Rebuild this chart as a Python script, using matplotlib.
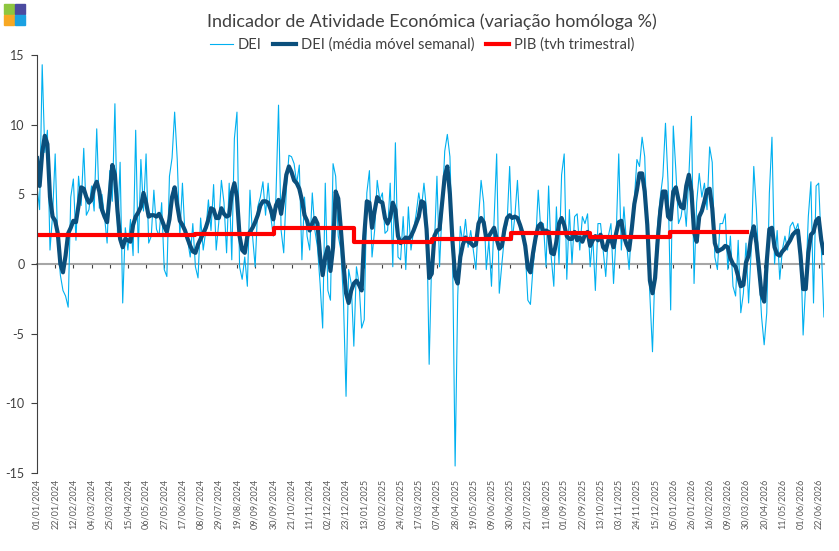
import pandas as pd
import matplotlib
matplotlib.use('Agg')
import matplotlib.pyplot as plt
import matplotlib.dates as mdates
from matplotlib.patches import Rectangle

plt.rcParams['font.family'] = ['Lato', 'DejaVu Sans']
plt.rcParams['axes.unicode_minus'] = False

# DEI (valores a cada 3 dias desde 01/01/2024)
dei = [
    5.6, 3.9, 14.3, 8.0, 9.6, 1.0, 3.5, 7.9, 1.5, -0.8,
    -1.9, -2.3, -3.1, 4.8, 6.1, 1.7, 6.3, 4.2, 8.3, 3.5,
    3.9, 5.6, 3.8, 9.7, 4.0, 5.0, 3.4, 1.5, 6.7, 4.5,
    11.5, 2.2, 7.3, -2.8, 2.6, 1.0, 3.2, 0.6, 9.6, 0.8,
    7.5, 3.8, 7.9, 1.5, 2.0, 5.3, 2.5, 2.0, 4.4, -0.4,
    -0.9, 6.3, 7.6, 10.9, 7.5, 2.0, 5.8, 2.0, 1.7, 0.5,
    2.9, -0.2, -1.0, 3.3, 1.0, 2.4, 4.6, 2.4, 5.7, 1.0,
    3.0, 6.0, 4.4, 0.8, 5.8, 0.3, 9.0, 10.9, -0.2, -1.1,
    0.5, -1.6, 5.3, 2.0, -0.2, 4.1, 4.8, 5.9, 3.5, 5.8,
    3.4, 2.0, 4.8, 11.4, 2.4, 0.8, 5.3, 7.8, 7.7, 7.2,
    5.8, 7.1, 0.3, 4.8, 2.0, 1.0, 5.1, 2.4, 1.2, -1.4,
    -4.6, 5.8, -1.9, -2.6, 7.2, 6.3, 2.0, 1.0, -2.6, -9.5,
    -0.4, -1.4, -5.9, -0.2, -1.4, -4.6, -4.0, 5.1, 6.7, 0.5,
    2.4, 6.0, 4.6, 5.1, 2.2, 2.4, 5.8, -0.2, 8.7, 0.5,
    0.3, 3.4, -0.4, 4.1, 1.0, 2.4, 3.6, 5.1, 3.9, 5.8,
    3.9, -7.2, 0.5, 1.2, 6.3, -0.2, 3.9, 8.1, 9.3, 7.7,
    1.0, -14.5, -2.3, 2.7, 1.5, 3.2, 1.2, 2.4, 1.0, -0.4,
    3.2, 6.0, 4.4, -0.4, 1.7, -1.6, 3.2, 7.9, -2.1, 0.0,
    2.0, 2.9, 7.0, 1.7, 3.4, 6.0, 2.4, 2.0, 1.0, -2.6,
    -2.9, -0.2, 1.5, 5.3, 2.4, 2.9, -0.2, 5.6, 0.5, -1.6,
    4.1, 0.0, 6.4, 7.9, -1.1, 3.9, 0.0, 3.4, 3.6, 1.0,
    3.4, 2.9, 3.6, -0.2, 2.0, -1.9, 2.9, 2.9, 1.0, -0.9,
    2.0, 2.9, -1.4, 2.0, 7.9, 1.0, 4.1, 1.5, -0.4, 2.9,
    4.6, 7.5, 7.0, 9.1, 7.7, 2.0, -2.3, -6.3, 0.0, 2.9,
    4.8, 6.3, 10.1, 5.8, -3.3, 9.9, 6.7, 2.9, 3.4, 4.8,
    2.7, 6.3, 10.6, -1.4, 4.4, 6.5, 4.8, 5.8, 3.9, 8.4,
    7.3, 0.5, -0.4, 2.9, 2.9, 3.6, -0.4, 2.0, -1.6, -2.3,
    1.7, -3.5, -2.1, 1.5, -2.8, 1.0, 7.0, 3.9, -0.4, -3.8,
    -5.8, -3.5, 5.1, 9.1, 0.0, 2.4, -1.1, 1.0, 2.0, 1.0,
    2.7, 3.0, 2.4, 2.9, 1.5, -5.1, -1.4, 3.4, 5.9, -2.8,
    5.6, 5.8, 1.2, -3.8,
]

# DEI média móvel semanal (mesmas datas)
dei_mm = [
    7.6, 5.6, 8.0, 9.2, 8.6, 4.8, 3.4, 3.1, 2.2, 0.0,
    -0.6, 0.6, 2.2, 2.6, 3.1, 3.0, 4.2, 5.5, 5.4, 4.8,
    4.4, 4.6, 5.5, 5.9, 5.2, 3.9, 3.4, 3.0, 5.0, 7.1,
    6.4, 3.8, 1.8, 1.2, 1.8, 1.7, 1.6, 2.8, 3.4, 3.7,
    4.1, 5.1, 4.4, 3.4, 3.5, 3.5, 3.4, 3.6, 3.2, 2.7,
    2.3, 3.2, 4.8, 5.5, 4.2, 3.1, 2.8, 2.4, 1.8, 1.3,
    0.9, 0.8, 1.4, 1.8, 2.2, 2.6, 3.2, 4.0, 3.9, 3.3,
    3.3, 4.0, 3.6, 3.4, 3.5, 5.1, 5.8, 4.8, 2.0, 1.0,
    0.8, 2.0, 2.3, 2.6, 3.0, 3.5, 4.2, 4.5, 4.5, 4.4,
    3.9, 3.2, 4.2, 4.6, 3.6, 4.9, 6.4, 7.0, 6.6, 6.0,
    5.8, 5.4, 4.6, 3.5, 3.1, 2.4, 2.9, 3.3, 2.9, 0.6,
    -0.8, 0.5, 1.2, -0.5, 1.2, 5.2, 4.7, 2.5, 0.0, -2.1,
    -2.8, -1.9, -1.4, -1.2, -1.5, -1.9, 2.0, 4.5, 4.4, 2.6,
    3.8, 4.8, 4.5, 4.4, 3.3, 2.9, 3.3, 4.4, 3.9, 2.0,
    1.5, 1.7, 1.9, 1.8, 2.0, 2.4, 2.9, 3.4, 4.5, 4.4,
    2.5, -1.0, -0.7, 2.0, 2.4, 2.5, 4.4, 6.3, 7.0, 5.0,
    1.6, -0.9, -1.4, 0.5, 1.4, 1.9, 1.6, 1.5, 1.3, 1.4,
    2.9, 3.3, 3.0, 1.8, 2.0, 2.3, 2.6, 1.8, 1.1, 1.3,
    2.5, 3.3, 3.5, 3.3, 3.4, 3.3, 2.8, 2.2, 1.3, -0.3,
    -0.6, 0.8, 1.9, 2.7, 2.9, 2.3, 2.4, 2.3, 0.8, 0.7,
    1.6, 2.9, 3.3, 2.8, 2.0, 1.8, 1.8, 2.3, 1.7, 1.9,
    1.6, 2.1, 2.3, 1.3, 1.7, 2.0, 1.7, 2.1, 1.2, 1.0,
    1.7, 1.8, 1.2, 2.2, 3.0, 3.1, 2.0, 1.4, 1.0, 2.5,
    4.3, 5.3, 6.5, 6.5, 5.2, 2.8, -1.2, -2.1, -1.0, 1.7,
    3.8, 5.2, 5.2, 3.4, 3.2, 5.2, 5.5, 4.6, 4.1, 4.0,
    5.6, 6.4, 5.2, 2.3, 1.6, 3.4, 3.8, 4.5, 5.3, 5.4,
    4.0, 1.5, 0.9, 1.0, 1.1, 1.3, 1.2, 0.4, 0.0, -0.2,
    -0.9, -1.6, -1.5, 0.1, 0.6, 2.0, 2.7, 1.5, -0.3, -2.2,
    -2.7, 0.2, 2.5, 2.6, 1.2, 0.7, 0.6, 0.9, 1.1, 1.4,
    1.7, 2.1, 2.3, 2.4, 0.6, -1.8, -1.8, 0.8, 2.1, 2.3,
    3.1, 3.3, 1.7, 0.8,
]

# PIB (taxa de variação homóloga trimestral)
pib_trimestres = ['2024-01-01', '2024-04-01', '2024-07-01', '2024-10-01',
                  '2025-01-01', '2025-04-01', '2025-07-01', '2025-10-01',
                  '2026-01-01']
pib = [2.05, 2.1, 2.15, 2.6, 1.55, 1.8, 2.2, 1.95, 2.3]
pib_fim = '2026-03-31'

datas = pd.date_range('2024-01-01', periods=len(dei), freq='3D')
datas_mm = pd.date_range('2024-01-01', periods=len(dei_mm), freq='3D')
x_pib = list(pd.to_datetime(pib_trimestres)) + [pd.Timestamp(pib_fim)]
y_pib = pib + [pib[-1]]

fig = plt.figure(figsize=(8.39, 5.51), dpi=100)
ax = fig.add_axes([0.0441, 0.1416, 0.9379, 0.7586])

ax.plot(datas, dei, color='#00B0F0', lw=0.8, label='DEI')
ax.plot(datas_mm, dei_mm, color='#0B4F7C', lw=3, label='DEI (média móvel semanal)')
ax.step(x_pib, y_pib, where='post', color='#FF0000', lw=3, label='PIB (tvh trimestral)')

ax.set_ylim(-15, 15)
ax.set_xlim(pd.Timestamp('2024-01-01'), datas[-1])
ax.set_yticks([-15, -10, -5, 0, 5, 10, 15])
ax.set_yticklabels(['-15', '-10', '-5', '0', '5', '10', '15'])

ticks = pd.date_range('2024-01-01', datas[-1], freq='21D')
ax.set_xticks(ticks)
ax.set_xticklabels([t.strftime('%d/%m/%Y') for t in ticks], rotation=90, va='top')
ax.tick_params(axis='x', length=0, pad=4, labelsize=6.5, labelcolor='#595959')
ax.tick_params(axis='y', length=4, width=0.8, pad=5, labelsize=9, labelcolor='#404040', color='#404040')

for s in ['top', 'right', 'bottom']:
    ax.spines[s].set_visible(False)
ax.spines['left'].set_color('#404040')
ax.spines['left'].set_linewidth(0.8)

# eixo horizontal no zero
eixo0 = ax.secondary_xaxis(0.5)
eixo0.set_alignment('bottom')
eixo0.set_xticks(mdates.date2num(ticks))
eixo0.tick_params(axis='x', direction='out', length=3, width=0.8, color='#404040',
                  labelbottom=False, labeltop=False)
eixo0.spines['bottom'].set_color('#A6A6A6')
eixo0.spines['bottom'].set_linewidth(1.5)

fig.text(0.515, 1 - 22 / 551, 'Indicador de Atividade Económica (variação homóloga %)',
         ha='center', va='center', fontsize=13, color='#404040')
fig.legend(loc='center', bbox_to_anchor=(0.503, 1 - 45 / 551), ncol=3, frameon=False,
           fontsize=10.5, handlelength=1.6, handletextpad=0.3, columnspacing=0.8,
           labelcolor='#404040')

# logotipo
cores_logo = [('#8DC63F', 4, 4), ('#4B4BA0', 15, 4), ('#F7A823', 4, 15), ('#1BA1E2', 15, 15)]
for cor, px, py in cores_logo:
    fig.add_artist(Rectangle((px / 839, 1 - (py + 10) / 551), 10 / 839, 10 / 551,
                             transform=fig.transFigure, color=cor))

fig.savefig('out.png', dpi=100)
